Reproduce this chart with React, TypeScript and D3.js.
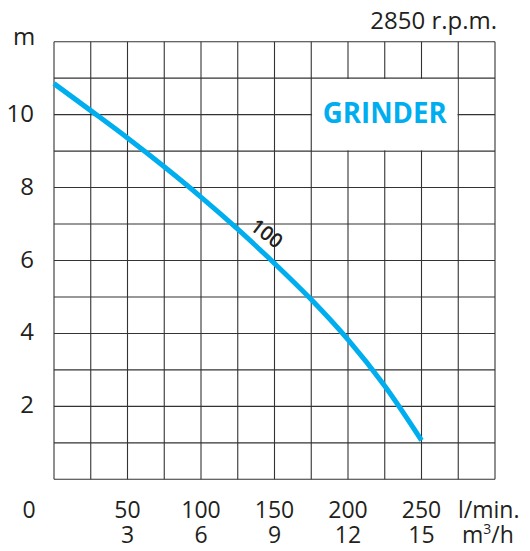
import React from "react";
import * as d3 from "d3";

const flowLpm = [0, 25, 50, 75, 100, 125, 150, 175, 200, 225, 250];
const headM = [10.85, 10.11, 9.36, 8.57, 7.74, 6.86, 5.92, 4.93, 3.83, 2.56, 1.07];
const xTickLpm = [50, 100, 150, 200, 250];
const xTickM3h = ["3", "6", "9", "12", "15"];
const yTicks = [2, 4, 6, 8, 10];
const curveLabel = "100";
const speedLabel = "2850 r.p.m.";
const modelLabel = "GRINDER";

const W = 530;
const H = 551;
const FONT = "'Open Sans', 'DejaVu Sans', sans-serif";
const BLUE = "#00AEEF";
const INK = "#231f20";

export default function App() {
  const x = d3.scaleLinear().domain([0, 300]).range([54, 495]);
  const y = d3.scaleLinear().domain([0, 12]).range([479.3, 41.7]);
  const gridX = d3.range(0, 301, 25);
  const gridY = d3.range(0, 13, 1);
  const line = d3
    .line<number>()
    .x((_, i) => x(flowLpm[i]))
    .y((d) => y(d))
    .curve(d3.curveCatmullRom.alpha(0.5));

  const boxX0 = x(175);
  const boxX1 = x(275);
  const boxY0 = y(11);
  const boxY1 = y(9);

  return (
    <div style={{ position: "absolute", left: 0, top: 0 }}>
      <svg width={W} height={H} style={{ display: "block", background: "#fff" }}>
        <g stroke="#333" strokeWidth={1.1} fill="none">
          {gridX.map((v) => (
            <line key={"gx" + v} x1={x(v)} x2={x(v)} y1={y(12)} y2={y(0)} />
          ))}
          {gridY.map((v) => (
            <line key={"gy" + v} x1={x(0)} x2={x(300)} y1={y(v)} y2={y(v)} />
          ))}
        </g>
        <rect
          x={boxX0 + 0.8}
          y={boxY0 + 0.8}
          width={boxX1 - boxX0 - 1.6}
          height={boxY1 - boxY0 - 1.6}
          fill="#fff"
        />
        <text
          x={(boxX0 + boxX1) / 2}
          y={123}
          textAnchor="middle"
          fontFamily={FONT}
          fontWeight={700}
          fontSize={29}
          fill={BLUE}
          textLength={124}
          lengthAdjust="spacingAndGlyphs"
        >
          {modelLabel}
        </text>
        <path d={line(headM) || ""} fill="none" stroke={BLUE} strokeWidth={5} />
        <text
          x={0}
          y={0}
          transform={`translate(267,233) rotate(37)`}
          textAnchor="middle"
          dominantBaseline="central"
          fontFamily={FONT}
          fontWeight={600}
          fontSize={20}
          fill={INK}
        >
          {curveLabel}
        </text>
        <g fontFamily={FONT} fontSize={23} fill={INK}>
          <text x={497} y={29} textAnchor="end" fontSize={24}>
            {speedLabel}
          </text>
          <text x={24} y={45} textAnchor="middle" fontSize={24}>
            m
          </text>
          {yTicks.map((v) => (
            <text key={"yt" + v} x={34} y={y(v) + 7} textAnchor="end" fontSize={24}>
              {v}
            </text>
          ))}
          <text x={29} y={518} textAnchor="middle">
            0
          </text>
          {xTickLpm.map((v, i) => (
            <g key={"xt" + v}>
              <text x={x(v)} y={518} textAnchor="middle">
                {v}
              </text>
              <text x={x(v)} y={543} textAnchor="middle">
                {xTickM3h[i]}
              </text>
            </g>
          ))}
          <text x={458} y={518} textAnchor="start">
            l/min.
          </text>
          <text x={462} y={543} textAnchor="start">
            m<tspan fontSize={14} dy={-9}>3</tspan>
            <tspan dy={9}>/h</tspan>
          </text>
        </g>
      </svg>
    </div>
  );
}
